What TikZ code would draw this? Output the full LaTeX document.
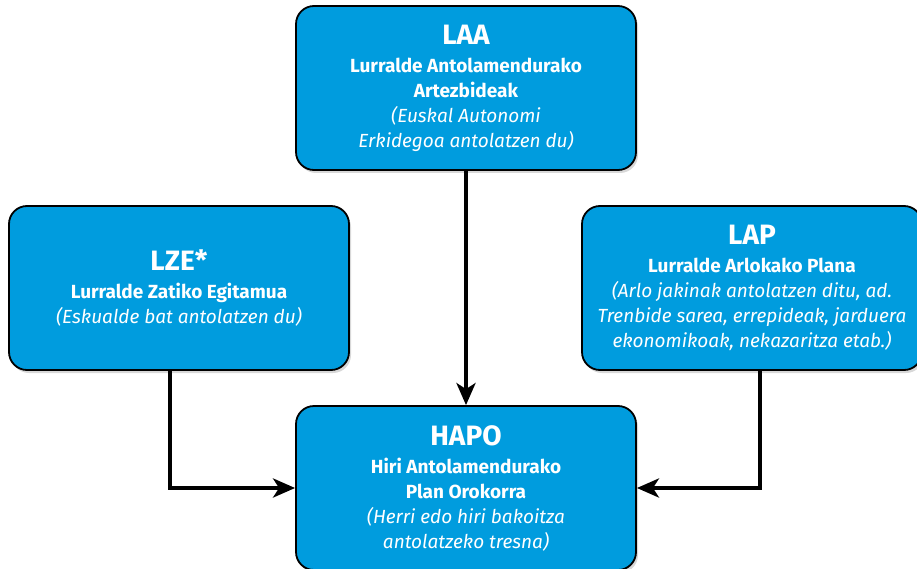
\documentclass[tikz,border=0pt]{standalone}
\usepackage{fontspec}
\setmainfont{Fira Sans}
\usepackage{tikz}
\usetikzlibrary{arrows.meta,positioning,shadows}

\definecolor{planblue}{RGB}{0,156,222}

\begin{document}
\begin{tikzpicture}[x=1pt,y=-1pt,>={Stealth[length=22pt,width=19pt,inset=6pt]},
                    line width=4pt]
  \tikzstyle{plan}=[draw=black,line width=1.8pt,fill=planblue,rounded corners=18pt,
                    minimum width=340pt,minimum height=164pt,text=white,align=center,
                    font=\fontsize{19}{25}\selectfont,
                    drop shadow={opacity=0.3,shadow xshift=2pt,shadow yshift=-3pt}]

  \clip (0,0) rectangle (917,569);
  \fill[white] (0,0) rectangle (917,569);

  \node[plan] (LAA)  at (466,88)  {{\fontsize{28}{27}\selectfont\bfseries LAA}\\[3pt]
                                   \textbf{Lurralde Antolamendurako}\\
                                   \textbf{Artezbideak}\\
                                   \textit{(Euskal Autonomi}\\
                                   \textit{Erkidegoa antolatzen du)}};
  \node[plan] (LZE)  at (179,288) {{\fontsize{28}{27}\selectfont\bfseries LZE*}\\[3pt]
                                   \textbf{Lurralde Zatiko Egitamua}\\
                                   \textit{(Eskualde bat antolatzen du)}};
  \node[plan] (LAP)  at (752,288) {{\fontsize{28}{27}\selectfont\bfseries LAP}\\[3pt]
                                   \textbf{Lurralde Arlokako Plana}\\
                                   \textit{(Arlo jakinak antolatzen ditu, ad.}\\
                                   \textit{Trenbide sarea, errepideak, jarduera}\\
                                   \textit{ekonomikoak, nekazaritza etab.)}};
  \node[plan] (HAPO) at (466,488) {{\fontsize{28}{27}\selectfont\bfseries HAPO}\\[3pt]
                                   \textbf{Hiri Antolamendurako}\\
                                   \textbf{Plan Orokorra}\\
                                   \textit{(Herri edo hiri bakoitza}\\
                                   \textit{antolatzeko tresna)}};

  \draw[->] (LAA) -- (HAPO);
  \draw[->] ([xshift=-9pt]LZE.south) |- (HAPO.west);
  \draw[->] ([xshift=8pt]LAP.south) |- (HAPO.east);
\end{tikzpicture}
\end{document}
